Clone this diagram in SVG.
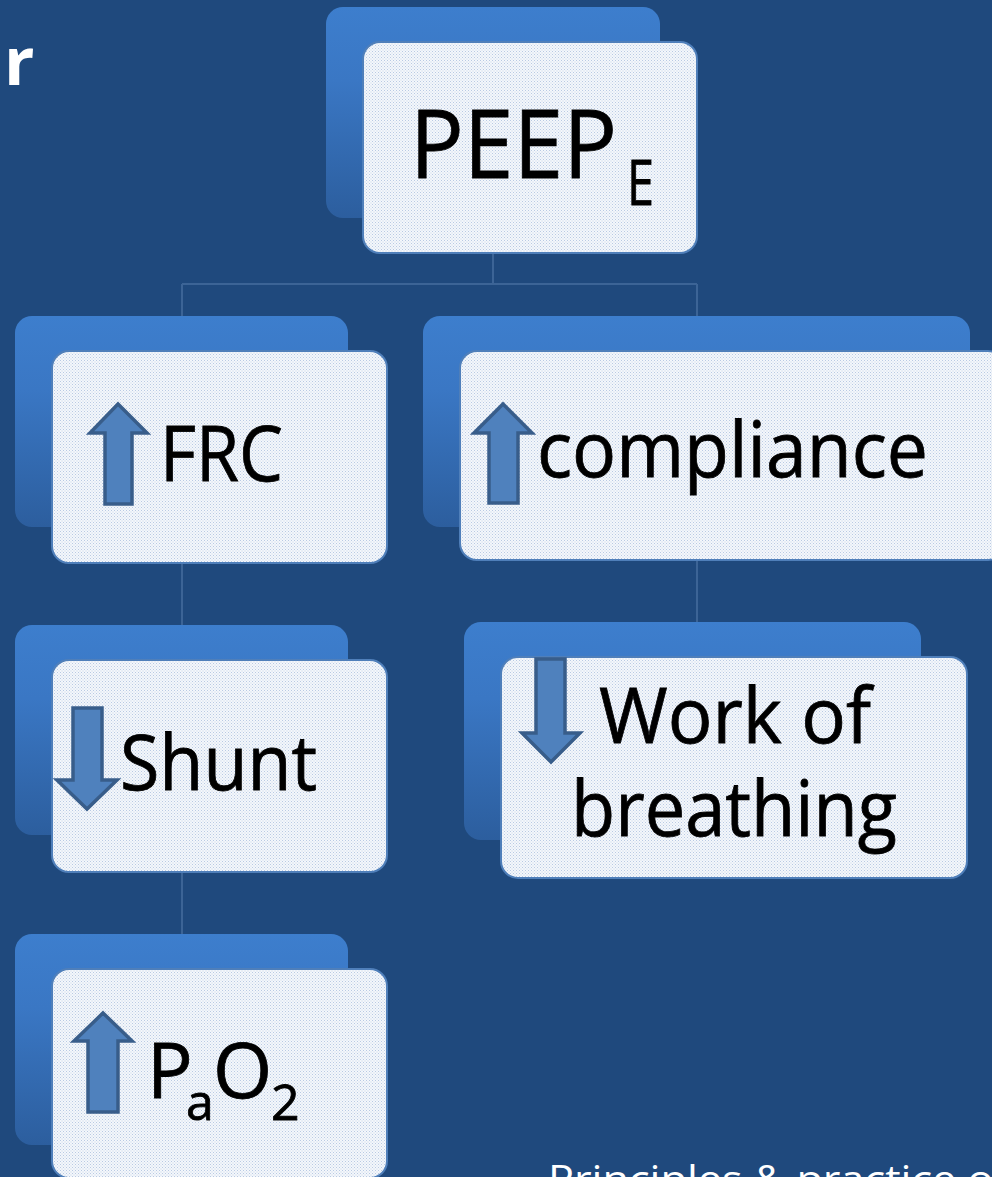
<svg xmlns="http://www.w3.org/2000/svg" width="992" height="1177" viewBox="0 0 992 1177">
  <defs>
    <linearGradient id="backGrad" x1="0" y1="0" x2="0" y2="1">
      <stop offset="0" stop-color="#3D7ECD"/>
      <stop offset="0.35" stop-color="#3A77C4"/>
      <stop offset="1" stop-color="#2C5E9E"/>
    </linearGradient>
    <pattern id="dots" width="3" height="3" patternUnits="userSpaceOnUse">
      <rect width="3" height="3" fill="#F4F7FB"/>
      <rect x="0" y="0" width="1" height="1" fill="#B9CAE3"/>
      <rect x="1.5" y="1.5" width="1" height="1" fill="#C7D5EA"/>
    </pattern>
    <style>
      .back { fill: url(#backGrad); }
      .front { fill: url(#dots); stroke: #4F7FBA; stroke-width: 2; }
      .lbl { font-family: "Open Sans", "Noto Sans", "Liberation Sans", sans-serif; fill: #000000; stroke: #000000; stroke-width: 0.8; }
      .arrow { fill: #4F81BD; stroke: #385D8A; stroke-width: 3.5; stroke-linejoin: miter; }
      .conn { stroke: #3C6496; stroke-width: 2; fill: none; }
      .white { font-family: "Open Sans", "Noto Sans", "Liberation Sans", sans-serif; fill: #FFFFFF; }
    </style>
  </defs>

  <rect x="0" y="0" width="992" height="1177" fill="#1F497D"/>

  <text class="white" x="4" y="85" font-size="67" font-weight="bold">r</text>

  <g id="connectors">
    <path class="conn" d="M493 253 V284 M182 284 H697 M182 284 V351 M697 284 V351"/>
    <path class="conn" d="M182 563 V660"/>
    <path class="conn" d="M182 872 V969"/>
    <path class="conn" d="M697 561 V657"/>
  </g>

  <g id="node-peep">
    <rect class="back" x="326" y="7" width="334" height="211" rx="17"/>
    <rect class="front" x="363" y="42" width="334" height="211" rx="17"/>
    <text class="lbl" x="410" y="178" font-size="95" textLength="207" lengthAdjust="spacingAndGlyphs">PEEP</text>
    <text class="lbl" x="627" y="205" font-size="63" textLength="27" lengthAdjust="spacingAndGlyphs">E</text>
  </g>

  <g id="node-frc">
    <rect class="back" x="15" y="316" width="333" height="211" rx="17"/>
    <rect class="front" x="52" y="351" width="335" height="212" rx="17"/>
    <path class="arrow" d="M118 404 L147 433 L132 433 L132 504 L105 504 L105 433 L90 433 Z"/>
    <text class="lbl" x="160" y="481" font-size="76" textLength="123" lengthAdjust="spacingAndGlyphs">FRC</text>
  </g>

  <g id="node-compliance">
    <rect class="back" x="423" y="316" width="547" height="211" rx="17"/>
    <rect class="front" x="460" y="351" width="545" height="209" rx="17"/>
    <path class="arrow" d="M503 404 L532 433 L518 433 L518 503 L489 503 L489 433 L474 433 Z"/>
    <text class="lbl" x="537" y="477" font-size="76" textLength="391" lengthAdjust="spacingAndGlyphs">compliance</text>
  </g>

  <g id="node-shunt">
    <rect class="back" x="15" y="625" width="333" height="210" rx="17"/>
    <rect class="front" x="52" y="660" width="335" height="212" rx="17"/>
    <path class="arrow" d="M73 708 L102 708 L102 780 L117 780 L87 809 L57 780 L73 780 Z"/>
    <text class="lbl" x="120" y="790" font-size="76" textLength="197" lengthAdjust="spacingAndGlyphs">Shunt</text>
  </g>

  <g id="node-work">
    <rect class="back" x="464" y="622" width="457" height="218" rx="17"/>
    <rect class="front" x="501" y="657" width="466" height="221" rx="17"/>
    <path class="arrow" d="M536 659 L565 659 L565 733 L580 733 L551 762 L522 733 L536 733 Z"/>
    <text class="lbl" x="599" y="743" font-size="76" textLength="272" lengthAdjust="spacingAndGlyphs">Work of</text>
    <text class="lbl" x="571" y="836" font-size="76" textLength="326" lengthAdjust="spacingAndGlyphs">breathing</text>
  </g>

  <g id="node-pao2">
    <rect class="back" x="15" y="934" width="333" height="211" rx="17"/>
    <rect class="front" x="52" y="969" width="335" height="209" rx="17"/>
    <path class="arrow" d="M103 1013 L132 1041 L118 1041 L118 1112 L88 1112 L88 1041 L74 1041 Z"/>
    <text class="lbl" font-size="76"><tspan x="147" y="1098">P</tspan><tspan x="186" y="1120" font-size="50">a</tspan><tspan x="213" y="1098">O</tspan><tspan x="271" y="1120" font-size="50">2</tspan></text>
  </g>

  <text class="white" x="548" y="1193" font-size="38" textLength="460" lengthAdjust="spacingAndGlyphs">Principles &amp; practice of</text>
</svg>
